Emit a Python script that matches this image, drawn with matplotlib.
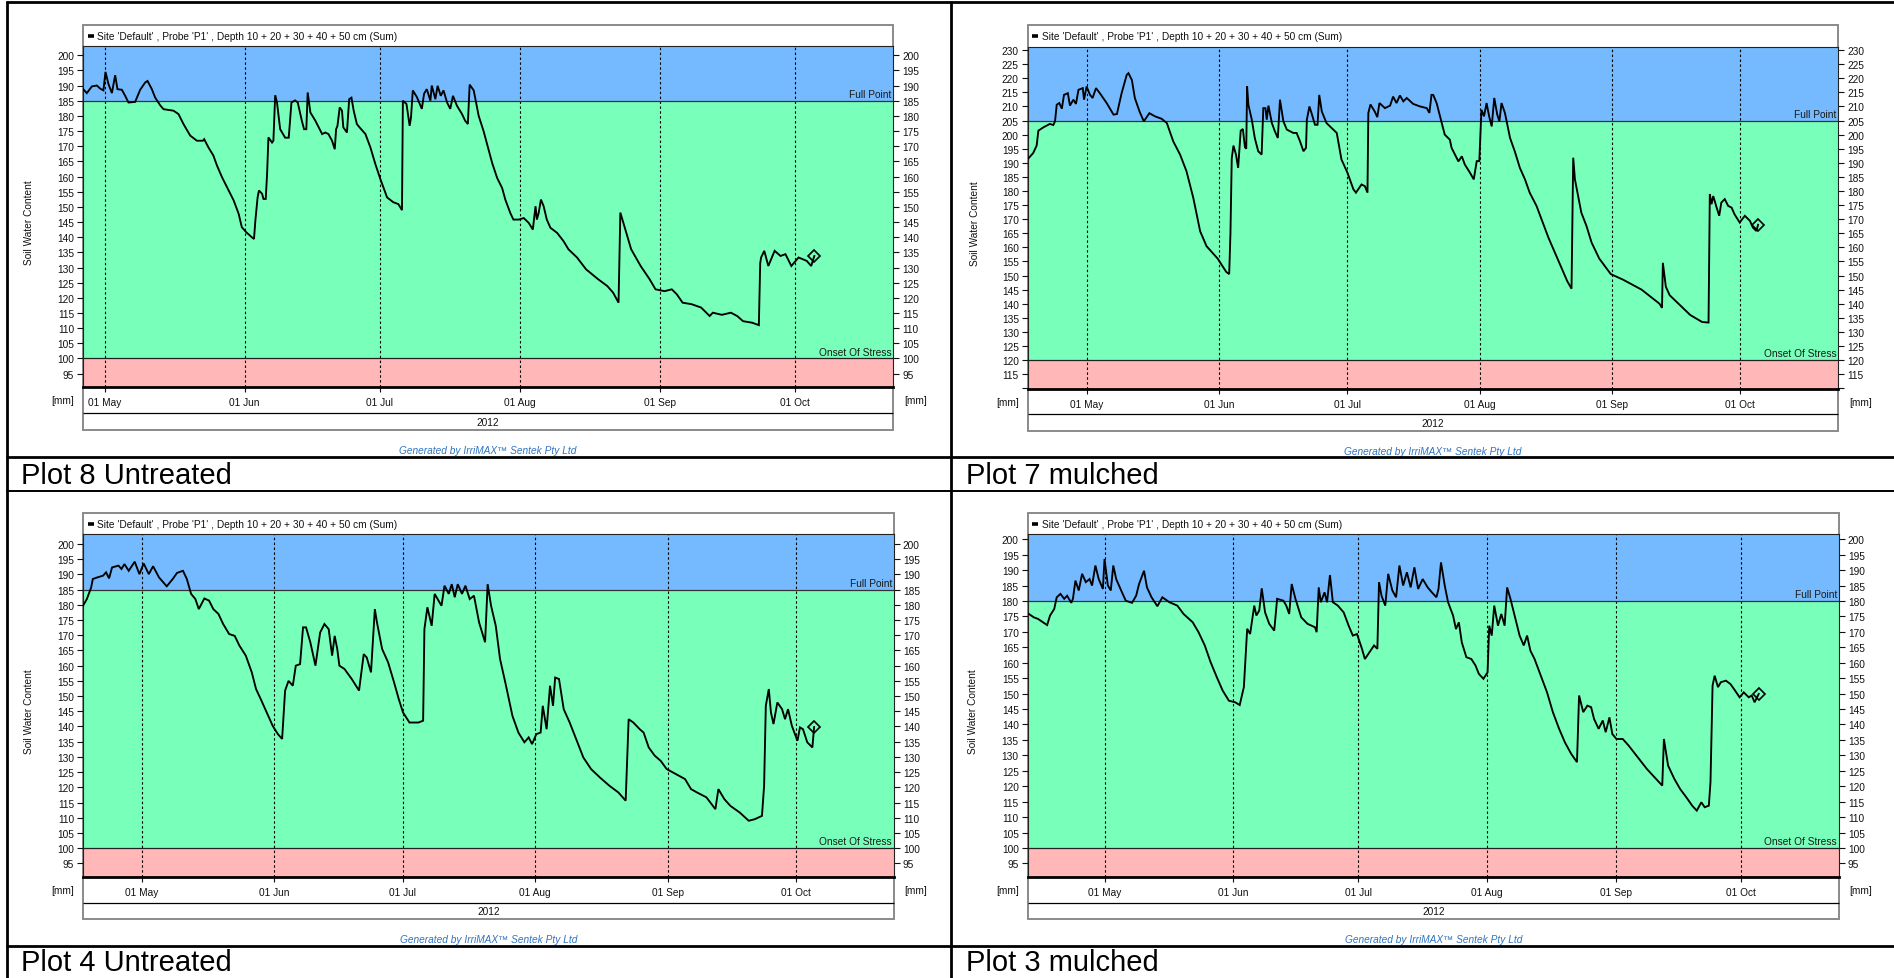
import numpy as np
import matplotlib
matplotlib.use("Agg")
import matplotlib.pyplot as plt
import matplotlib.dates as mdates
from matplotlib.lines import Line2D
from matplotlib.patches import Rectangle
from matplotlib.ticker import MultipleLocator, FuncFormatter

plt.rcParams['font.family'] = ['Liberation Sans', 'DejaVu Sans']

# ---------------- data (days after 01 May 2012, soil water content mm) ----------------
p8_day = [-4.77, -3.95, -2.84, -1.73, -1.0, -0.27, 0.18, 0.84, 1.6, 2.33,
          2.84, 3.81, 4.55, 5.28, 6.76, 7.87, 8.98, 9.5, 10.46, 11.2,
          12.3, 13.04, 15.26, 16.36, 17.47, 18.96, 20.44, 21.77, 22.06, 23.0,
          24.1, 24.9, 26.0, 27.5, 28.6, 29.7, 30.4, 31.4, 32.6, 33.1,
          33.4, 33.9, 34.2, 34.9, 35.2, 35.7, 36.0, 36.3, 37.1, 37.4,
          37.8, 38.2, 38.9, 40.0, 40.8, 41.4, 42.2, 42.8, 43.7, 44.2,
          44.7, 45.0, 45.6, 46.7, 48.2, 48.9, 49.6, 50.4, 51.0, 51.3,
          51.6, 52.1, 52.6, 52.9, 53.7, 54.2, 54.7, 55.2, 55.9, 56.5,
          57.8, 58.9, 60.0, 61.1, 62.6, 64.0, 65.1, 65.9, 66.1, 66.9,
          67.6, 67.9, 68.3, 69.2, 70.3, 70.8, 71.4, 72.2, 72.5, 73.3,
          73.8, 74.5, 75.1, 75.9, 76.6, 77.2, 78.1, 79.2, 79.9, 80.5,
          80.9, 81.8, 82.9, 84.0, 85.1, 85.9, 87.0, 88.1, 88.8, 89.9,
          90.6, 91.8, 92.9, 94.0, 94.9, 95.5, 95.8, 96.2, 96.7, 97.3,
          98.0, 98.8, 100.3, 101.7, 102.8, 104.7, 106.7, 109.4, 111.4, 112.7,
          113.9, 114.3, 115.4, 116.7, 118.8, 120.8, 122.1, 124.1, 125.7, 126.8,
          128.1, 130.1, 132.2, 134.1, 134.8, 136.8, 138.8, 140.2, 141.5, 143.5,
          145.0, 145.3, 145.5, 146.2, 147.1, 148.5, 149.8, 150.9, 152.2, 153.8,
          155.6, 156.6, 157.3]
p8_swc = [188.8, 187.5, 189.7, 190.0, 189.0, 188.4, 194.5, 190.5, 187.5, 193.4,
          188.8, 188.6, 186.6, 184.4, 184.6, 188.6, 191.0, 191.5, 188.8, 186.0,
          183.5, 182.2, 181.7, 180.6, 177.3, 173.5, 171.8, 171.8, 172.3, 169.6,
          166.9, 163.6, 159.8, 155.4, 152.1, 147.7, 143.3, 141.6, 140.0, 139.4,
          145.4, 153.1, 155.4, 154.3, 152.6, 152.6, 160.8, 172.9, 171.2, 171.8,
          186.8, 184.4, 175.6, 172.8, 172.8, 184.4, 185.1, 184.4, 178.4, 175.6,
          175.6, 187.7, 181.1, 178.4, 174.0, 174.5, 174.0, 171.8, 169.0, 175.6,
          176.7, 182.8, 181.7, 176.2, 174.5, 185.5, 186.0, 181.7, 177.3, 176.2,
          174.0, 169.6, 164.1, 159.2, 153.1, 151.5, 150.9, 148.9, 185.0, 183.9,
          176.7, 179.5, 188.4, 186.2, 182.3, 187.3, 188.8, 185.0, 190.0, 185.5,
          189.9, 186.6, 188.4, 184.4, 182.3, 186.6, 183.3, 180.6, 178.4, 177.3,
          190.3, 188.4, 180.0, 174.9, 168.8, 164.4, 159.5, 156.2, 152.4, 148.0,
          145.8, 145.8, 146.3, 144.7, 142.5, 150.2, 145.8, 148.0, 152.4, 150.2,
          145.8, 143.1, 141.4, 138.7, 136.0, 133.3, 129.4, 126.1, 123.9, 121.7,
          118.4, 148.1, 142.6, 136.0, 130.5, 126.1, 122.8, 122.2, 122.8, 121.2,
          118.4, 117.9, 116.8, 114.0, 115.1, 114.4, 115.1, 114.0, 112.3, 111.8,
          111.0, 131.4, 133.3, 135.5, 130.5, 135.5, 133.8, 134.4, 130.5, 133.3,
          132.2, 130.5, 133.8]

p7_day = [-13.7, -12.6, -11.8, -11.4, -10.2, -8.7, -7.9, -7.5, -7.1, -6.5,
          -5.9, -5.4, -4.5, -4.0, -3.2, -2.6, -2.0, -1.0, -0.7, -0.1,
          0.7, 1.3, 2.1, 3.0, 4.6, 6.2, 7.0, 8.1, 9.3, 9.7,
          10.5, 11.2, 12.3, 13.3, 14.6, 15.9, 17.5, 18.7, 20.2, 21.8,
          23.3, 24.9, 26.5, 28.0, 30.6, 32.6, 33.3, 33.6, 33.9, 34.3,
          34.9, 35.4, 36.0, 36.5, 37.0, 37.3, 37.5, 37.8, 38.6, 39.3,
          40.1, 40.9, 41.3, 41.8, 42.1, 42.5, 43.3, 44.0, 44.7, 45.2,
          46.0, 46.8, 48.3, 49.1, 49.9, 50.7, 51.3, 51.5, 52.1, 52.6,
          53.4, 54.0, 54.4, 55.0, 56.1, 57.7, 58.5, 59.6, 61.0, 62.4,
          63.0, 64.3, 65.1, 65.7, 65.9, 66.4, 67.4, 68.0, 68.5, 69.8,
          71.0, 71.7, 72.5, 73.3, 74.1, 74.9, 76.4, 78.0, 79.6, 80.2,
          80.7, 81.1, 81.9, 83.1, 83.8, 85.0, 85.4, 86.2, 87.0, 87.8,
          88.5, 89.7, 90.6, 91.3, 91.9, 92.4, 93.0, 93.6, 94.2, 94.8,
          95.4, 96.1, 96.6, 97.1, 97.9, 99.1, 100.2, 101.4, 102.6, 103.7,
          105.3, 106.9, 108.1, 110.5, 112.5, 113.5, 113.9, 114.3, 115.8, 117.0,
          118.2, 120.0, 122.7, 125.6, 129.9, 134.1, 134.7, 134.9, 135.6, 136.5,
          141.3, 144.1, 145.6, 145.9, 146.3, 146.7, 147.5, 148.1, 148.6, 149.4,
          150.2, 151.0, 151.7, 152.9, 154.1, 155.3, 156.0, 156.8, 157.2]
p7_swc = [191.6, 193.5, 196.1, 201.4, 202.6, 203.8, 203.4, 204.7, 210.6, 211.2,
          209.2, 214.1, 214.7, 210.3, 212.4, 210.9, 215.9, 216.5, 212.4, 217.1,
          214.1, 213.0, 216.5, 214.7, 211.2, 207.1, 207.3, 214.7, 221.2, 221.8,
          219.4, 213.0, 208.2, 204.7, 207.6, 206.5, 205.6, 204.1, 197.6, 192.9,
          187.0, 177.5, 165.7, 160.4, 156.0, 151.3, 150.5, 165.0, 191.5, 196.1,
          192.9, 188.2, 201.4, 202.0, 195.5, 195.0, 217.1, 210.6, 205.3, 198.8,
          194.1, 192.9, 209.4, 209.4, 205.3, 210.3, 204.1, 201.2, 198.8, 212.4,
          204.7, 201.8, 200.6, 200.6, 197.6, 194.1, 195.3, 205.3, 210.0, 207.6,
          203.5, 203.5, 214.1, 208.2, 204.1, 201.8, 200.6, 191.2, 186.5, 180.6,
          179.4, 182.3, 181.7, 179.4, 207.7, 210.7, 208.2, 206.2, 211.2, 209.4,
          210.3, 213.5, 211.2, 213.9, 211.8, 213.0, 210.9, 210.0, 209.4, 207.7,
          214.1, 214.1, 211.2, 204.1, 200.0, 198.2, 195.3, 192.9, 190.5, 192.3,
          189.4, 186.5, 184.1, 190.6, 190.6, 208.8, 206.5, 211.2, 206.5, 202.9,
          213.0, 207.1, 204.7, 211.2, 207.7, 198.8, 194.1, 188.2, 184.1, 179.4,
          174.7, 168.2, 163.4, 155.0, 148.0, 145.3, 191.8, 184.1, 172.3, 167.6,
          161.7, 156.0, 150.5, 148.5, 145.0, 140.0, 138.5, 154.5, 146.0, 143.0,
          136.0, 133.5, 133.3, 178.9, 175.3, 178.2, 174.1, 171.2, 175.9, 177.1,
          174.7, 174.1, 171.7, 168.8, 171.2, 169.4, 167.0, 165.8, 168.0]

p4_day = [-13.8, -12.9, -11.9, -11.5, -10.5, -9.1, -8.4, -7.7, -7.0, -5.5,
          -4.8, -4.1, -3.1, -1.7, -0.6, 0.4, 1.6, 2.6, 4.0, 5.8,
          7.2, 8.2, 9.6, 10.5, 11.5, 12.5, 13.3, 14.6, 15.7, 16.7,
          17.9, 19.0, 20.4, 21.7, 22.8, 24.3, 25.7, 26.7, 27.8, 29.2,
          30.6, 31.8, 32.8, 33.5, 34.3, 35.3, 36.0, 37.0, 37.7, 38.4,
          39.4, 40.6, 41.7, 42.7, 43.7, 44.5, 45.1, 45.7, 46.2, 47.4,
          49.1, 50.8, 51.9, 52.6, 53.6, 54.5, 55.0, 56.2, 57.6, 59.0,
          60.1, 61.1, 62.6, 64.7, 65.8, 66.1, 66.8, 67.8, 68.5, 70.1,
          70.8, 71.8, 72.5, 73.2, 73.9, 74.9, 75.7, 76.7, 77.7, 78.9,
          80.3, 80.9, 81.7, 82.8, 83.8, 85.2, 86.7, 88.1, 89.5, 90.5,
          91.3, 92.3, 93.3, 93.8, 94.7, 95.5, 96.2, 96.7, 97.6, 98.7,
          100.1, 101.6, 103.3, 105.1, 107.2, 109.4, 111.5, 113.2, 113.9, 115.0,
          116.5, 117.4, 118.6, 120.0, 121.4, 122.8, 125.0, 127.1, 128.5, 129.9,
          132.1, 134.2, 134.9, 136.3, 137.7, 139.9, 142.0, 143.4, 145.1, 145.6,
          146.0, 146.7, 147.2, 147.8, 148.7, 149.8, 150.5, 151.2, 152.1, 153.4,
          154.0, 154.7, 155.7, 156.9, 157.3]
p4_swc = [179.7, 181.9, 185.7, 188.5, 189.0, 189.6, 190.7, 188.7, 192.3, 192.9,
          191.8, 193.4, 191.2, 194.2, 190.1, 193.6, 190.1, 192.7, 189.0, 186.1,
          188.5, 190.5, 191.2, 188.5, 183.6, 181.9, 178.6, 182.1, 181.4, 178.6,
          177.0, 173.7, 170.4, 169.8, 166.6, 163.3, 157.8, 152.3, 149.0, 144.6,
          140.2, 137.5, 135.9, 151.8, 155.0, 153.4, 160.0, 160.5, 172.6, 172.6,
          167.7, 160.0, 170.9, 173.7, 172.0, 163.3, 169.8, 165.5, 160.0, 158.9,
          155.6, 151.8, 163.8, 162.7, 157.8, 178.6, 174.2, 165.5, 161.1, 154.5,
          149.0, 144.6, 141.3, 141.3, 141.9, 172.0, 179.2, 173.1, 183.6, 179.7,
          186.3, 183.6, 186.8, 182.5, 186.8, 183.6, 186.3, 181.9, 183.0, 174.2,
          167.7, 186.8, 179.7, 173.1, 162.2, 153.4, 143.5, 138.0, 134.8, 136.4,
          134.2, 137.5, 138.0, 146.8, 139.1, 153.4, 146.8, 156.1, 155.6, 145.7,
          141.3, 135.9, 129.8, 126.0, 123.2, 120.5, 118.3, 115.6, 142.4, 141.3,
          139.1, 138.0, 133.1, 130.4, 128.7, 126.0, 124.3, 122.7, 119.4, 118.3,
          116.7, 112.8, 119.4, 116.1, 113.9, 111.7, 109.0, 109.5, 110.6, 120.5,
          146.8, 152.3, 144.6, 140.8, 147.9, 145.7, 142.4, 145.7, 140.2, 135.3,
          139.7, 139.1, 134.8, 133.1, 139.8]

p3_day = [-18.2, -17.0, -16.0, -15.0, -13.8, -13.1, -12.1, -11.5, -10.6, -9.7,
          -9.0, -8.0, -7.6, -7.0, -6.2, -5.4, -4.5, -3.6, -3.0, -2.2,
          -1.4, -0.4, 0.0, 0.8, 1.5, 2.1, 2.8, 4.0, 5.1, 6.6,
          7.6, 8.3, 9.5, 10.2, 11.3, 12.7, 13.9, 15.6, 17.5, 19.0,
          21.2, 22.6, 24.1, 25.5, 27.0, 28.4, 29.9, 31.4, 32.5, 33.5,
          34.3, 35.0, 36.0, 36.5, 37.2, 37.8, 38.6, 39.6, 40.8, 41.5,
          43.0, 43.7, 44.4, 45.0, 45.9, 47.3, 48.8, 50.6, 51.0, 51.5,
          52.0, 52.9, 53.5, 54.2, 54.9, 56.1, 57.5, 58.7, 59.7, 60.7,
          61.9, 62.6, 63.7, 64.8, 65.6, 66.0, 66.6, 67.5, 68.2, 69.2,
          70.1, 70.9, 71.8, 72.7, 73.6, 74.5, 75.4, 76.5, 77.7, 78.7,
          79.8, 80.3, 80.9, 81.8, 82.6, 83.8, 84.5, 85.2, 85.9, 87.0,
          88.2, 89.2, 90.0, 91.1, 92.1, 92.5, 93.1, 93.7, 94.6, 95.4,
          96.2, 96.8, 97.6, 98.6, 99.8, 100.8, 101.6, 102.4, 103.4, 104.9,
          106.4, 107.8, 109.3, 110.7, 112.2, 113.6, 114.1, 115.1, 116.1, 117.0,
          117.7, 118.8, 119.8, 120.5, 121.4, 122.1, 123.1, 124.6, 126.0, 128.2,
          130.4, 132.6, 134.1, 134.5, 135.5, 137.0, 138.4, 139.9, 141.3, 142.4,
          143.5, 144.3, 145.3, 145.7, 146.2, 146.7, 147.5, 148.2, 149.4, 150.5,
          151.6, 152.7, 153.7, 154.9, 155.6, 156.3, 157.3]
p3_swc = [175.8, 174.7, 174.2, 173.3, 172.2, 175.3, 177.4, 181.2, 182.3, 180.7,
          181.7, 179.4, 180.7, 186.6, 183.4, 188.8, 186.1, 187.1, 185.0, 191.5,
          187.1, 183.9, 193.6, 185.0, 183.4, 191.5, 187.1, 183.4, 180.1, 179.4,
          181.7, 185.5, 189.8, 184.4, 181.2, 178.3, 181.2, 179.6, 178.5, 175.8,
          173.1, 169.9, 165.6, 160.2, 155.3, 151.0, 147.7, 147.2, 146.3, 152.1,
          171.0, 169.3, 178.5, 175.3, 176.9, 184.1, 176.3, 172.6, 170.4, 180.7,
          180.1, 178.5, 175.8, 185.5, 180.7, 174.7, 172.6, 171.5, 169.9, 184.4,
          179.6, 182.8, 179.6, 188.4, 179.6, 178.5, 176.3, 172.0, 168.8, 169.3,
          164.5, 161.2, 163.4, 165.6, 164.5, 186.1, 181.7, 178.5, 188.8, 183.4,
          181.2, 191.5, 185.0, 189.3, 184.4, 190.9, 183.9, 187.1, 184.4, 182.8,
          181.2, 183.9, 192.5, 185.0, 179.6, 175.3, 170.9, 173.1, 166.6, 161.8,
          161.2, 159.1, 156.4, 154.8, 156.9, 172.0, 168.8, 178.5, 172.0, 175.8,
          172.0, 184.4, 180.7, 175.3, 168.8, 165.6, 168.8, 163.9, 161.2, 155.8,
          150.4, 144.0, 138.6, 134.2, 130.5, 127.8, 149.4, 144.0, 146.1, 145.6,
          141.8, 138.6, 141.3, 137.5, 142.3, 136.9, 135.3, 135.3, 133.2, 129.4,
          125.6, 122.4, 120.2, 135.3, 126.7, 122.4, 119.1, 116.4, 113.7, 112.1,
          114.8, 113.2, 113.7, 121.3, 152.6, 155.8, 152.1, 153.7, 154.2, 153.1,
          151.0, 148.8, 150.4, 148.8, 149.4, 147.2, 149.9]

captions = ["Plot 8 Untreated", "Plot 7 mulched", "Plot 4 Untreated", "Plot 3 mulched"]
full_point = [185, 205, 185, 180]
onset_stress = [100, 120, 100, 100]
y_limits = [(90.6, 202.9), (109.9, 231.2), (90.6, 203.2), (90.7, 201.6)]
x_limits = [(-4.8, 174.8), (-13.9, 176.0), (-13.8, 176.0), (-18.5, 176.6)]
series_days = [p8_day, p7_day, p4_day, p3_day]
series_swc = [p8_swc, p7_swc, p4_swc, p3_swc]
legend_text = "Site 'Default' , Probe 'P1' , Depth 10 + 20 + 30 + 40 + 50 cm (Sum)"
credit_text = "Generated by IrriMAX\u2122 Sentek Pty Ltd"
year_text = "2012"

# ---------------- layout helpers ----------------
W, H = 1894, 979
BASE = np.datetime64('2012-05-01T00:00')
BLUE, GREEN, PINK = '#75BAFF', '#78FFBA', '#FFB7B7'


def to_dates(days):
    return BASE + np.round(np.asarray(days, dtype=float) * 1440).astype('timedelta64[m]')


fig = plt.figure(figsize=(W / 100, H / 100), dpi=100)


def fx(x):
    return x / W


def fy(y):
    return 1 - y / H


def hline(x0, x1, y, lw=1.0, color='black', z=5):
    fig.add_artist(Line2D([fx(x0), fx(x1)], [fy(y), fy(y)], transform=fig.transFigure,
                          lw=lw, color=color, zorder=z, solid_capstyle='butt'))


def vline(x, y0, y1, lw=1.0, color='black', z=5):
    fig.add_artist(Line2D([fx(x), fx(x)], [fy(y0), fy(y1)], transform=fig.transFigure,
                          lw=lw, color=color, zorder=z, solid_capstyle='butt'))


panels = [
    dict(L=83, R=893.3, T=25.7, PT=47.4, PB=388.0, AL=413.5, BB=430.5, YR=422.5, GEN=451, YLX=29, CX=21, CY=476),
    dict(L=1027.7, R=1838.3, T=25.7, PT=47.7, PB=389.5, AL=415.0, BB=431.7, YR=424, GEN=452, YLX=975, CX=966, CY=476),
    dict(L=83, R=894, T=514, PT=535.3, PB=877.7, AL=903.5, BB=920, YR=912.5, GEN=940, YLX=29, CX=21, CY=963),
    dict(L=1027.6, R=1839, T=514, PT=535.3, PB=877.7, AL=903.5, BB=920, YR=912.5, GEN=940, YLX=973, CX=966, CY=963),
]

for i, g in enumerate(panels):
    L, R, T, PT, PB = g['L'], g['R'], g['T'], g['PT'], g['PB']
    fig.add_artist(Rectangle((fx(L), fy(g['BB'])), fx(R) - fx(L), fy(T) - fy(g['BB']),
                             transform=fig.transFigure, facecolor='white', edgecolor='#8a8a8a',
                             lw=1.4, zorder=1))
    ax = fig.add_axes([fx(L), fy(PB), fx(R) - fx(L), fy(PT) - fy(PB)], zorder=3)
    y0, y1 = y_limits[i]
    xd0, xd1 = to_dates(x_limits[i])
    ax.set_xlim(xd0, xd1)
    ax.set_ylim(y0, y1)
    fp, st = full_point[i], onset_stress[i]
    ax.axhspan(fp, y1, color=BLUE, lw=0, zorder=0.5)
    ax.axhspan(st, fp, color=GREEN, lw=0, zorder=0.5)
    ax.axhspan(y0, st, color=PINK, lw=0, zorder=0.5)
    ax.axhline(fp, color='#333333', lw=0.9, zorder=2)
    ax.axhline(st, color='#222222', lw=0.9, zorder=2)
    ax.xaxis.set_major_locator(mdates.MonthLocator())
    ax.xaxis.set_major_formatter(mdates.DateFormatter('%d %b'))
    ax.grid(axis='x', color='black', ls=(0, (2.2, 2.2)), lw=0.8)
    ax.yaxis.set_major_locator(MultipleLocator(5))
    ax.yaxis.set_major_formatter(FuncFormatter(
        lambda val, pos, lo=y0: '' if val < lo + 1 else '%d' % round(val)))
    ax.tick_params(axis='y', which='both', left=True, right=True, labelleft=True, labelright=True,
                   direction='out', length=4.4, width=0.8, pad=2.0, labelsize=7.3, colors='#111111')
    ax.tick_params(axis='x', direction='out', length=3.5, width=0.8, pad=4.0, labelsize=7.3,
                   colors='#111111')
    for s in ('left', 'right', 'top'):
        ax.spines[s].set_linewidth(0.8)
        ax.spines[s].set_color('#222222')
    ax.spines['bottom'].set_linewidth(2.0)
    ax.spines['bottom'].set_color('black')

    d = to_dates(series_days[i])
    v = np.asarray(series_swc[i])
    ax.plot(d, v, color='black', lw=1.35, zorder=4, solid_joinstyle='miter')
    ax.plot(d[-1:], v[-1:], marker='D', ms=6, mfc='none', mec='black', mew=1.2, zorder=5)

    tr = ax.get_yaxis_transform()
    ax.annotate('Full Point', xy=(1, fp), xycoords=tr, xytext=(-1.5, 1.2), textcoords='offset points',
                ha='right', va='bottom', fontsize=7.3, color='#1a1a1a')
    ax.annotate('Onset Of Stress', xy=(1, st), xycoords=tr, xytext=(-1.5, 1.2), textcoords='offset points',
                ha='right', va='bottom', fontsize=7.3, color='#1a1a1a')

    legy = (T + PT) / 2
    hline(L + 4.5, L + 10.5, legy, lw=2.6, color='black')
    fig.text(fx(L + 14), fy(legy), legend_text, ha='left', va='center', fontsize=7.3, color='#111111')
    hline(L, R, g['AL'], lw=0.9, color='black')
    fig.text(fx((L + R) / 2), fy(g['YR']), year_text, ha='center', va='center', fontsize=7.3,
             color='#111111')
    lab_y = PB + 13.5
    fig.text(fx(L - 20), fy(lab_y), '[mm]', ha='center', va='center', fontsize=7.3, color='#111111')
    fig.text(fx(R + 22), fy(lab_y), '[mm]', ha='center', va='center', fontsize=7.3, color='#111111')
    fig.text(fx(g['YLX']), fy((PT + PB) / 2 + 5), 'Soil Water Content', rotation=90, ha='center',
             va='center', fontsize=7.3, color='#111111')
    fig.text(fx((L + R) / 2), fy(g['GEN']), credit_text, ha='center', va='center', fontsize=7.3,
             style='italic', color='#2F74C0')
    fig.text(fx(g['CX']), fy(g['CY']), captions[i], ha='left', va='center', fontsize=21, color='black')

hline(5.5, W, 3.2, lw=2.0)
vline(6.5, 2.2, H, lw=2.0)
vline(951.2, 2.2, H, lw=2.0)
hline(5.5, W, 458, lw=2.0)
hline(5.5, W, 492, lw=1.4)
hline(5.5, W, 947, lw=2.0)

fig.savefig('out.png', dpi=100)
